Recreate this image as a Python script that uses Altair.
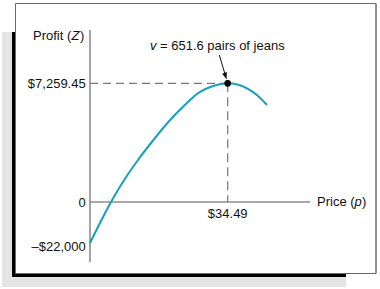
import altair as alt
import pandas as pd

# ---- data ----
price = [0, 2.50, 5.26, 7.76, 12.02, 16.28, 20.29, 24.54, 26.80, 30.80, 34.49, 39.32, 41.82, 44.33]
profit = [-22000, -11270, 0, 1040, 2569, 3914, 5076, 6116, 6605, 7094, 7259.45, 6954, 6544, 5932]
opt_price = [34.49]
max_profit = [7259.45]
y_tick_values = [7259.45, 0]
y_tick_labels = ["$7,259.45", "0"]
y_low_value = [-22000]
y_low_label = ["\u2013$22,000"]
x_tick_values = [34.49]
x_tick_labels = ["$34.49"]
y_title = ["Profit (", "Z", ")"]
x_title = ["Price (", "p", ")"]
note = ["v", "= 651.6 pairs of jeans"]

FONT = "Liberation Sans"
FS = 13
CURVE = "#169fbf"
AXIS = "#8c8c8c"
DASH = "#777777"

xs = alt.Scale(domain=[0, opt_price[0]], range=[90, 227.7], zero=False, nice=False)
ys = alt.Scale(domain=[y_low_value[0], 0, max_profit[0]], range=[243, 202, 83.3], zero=False, nice=False)

one = alt.Data(values=[{}])


def deco_rect(x, x2, y, y2, **kw):
    return alt.Chart(one).mark_rect(**kw).encode(
        x=alt.value(x), x2=alt.value(x2), y=alt.value(y), y2=alt.value(y2))


def deco_rule(x, x2, y, y2, **kw):
    return alt.Chart(one).mark_rule(**kw).encode(
        x=alt.value(x), x2=alt.value(x2), y=alt.value(y), y2=alt.value(y2))


def label(txt, x, y, align="left", style="normal"):
    return alt.Chart(one).mark_text(
        align=align, baseline="alphabetic", font=FONT, fontSize=FS,
        fontStyle=style, color="#111111", text=txt
    ).encode(x=alt.value(x), y=alt.value(y))


# frame and shadow
shadow_gray = deco_rect(2, 346, 32, 287, color="#e4e4e4")
shadow_black = deco_rect(12, 346, 32, 277, color="#000000")
box = deco_rect(15.5, 376, 3.5, 273.5, fill="white", stroke="#6a6a6a", strokeWidth=1)
box_right = deco_rule(376, 376, 3.5, 273.5, color="#8a8a8a", strokeWidth=1.6)

# axes lines
y_axis = deco_rule(90, 90, 30, 262, color=AXIS, strokeWidth=1.6)
x_axis = deco_rule(90, 310, 202, 202, color=AXIS, strokeWidth=1.6)

opt = pd.DataFrame({"p": opt_price, "Z": max_profit, "p0": [0], "Z0": [0]})

h_dash = alt.Chart(opt).mark_rule(color=DASH, strokeWidth=1.2, strokeDash=[8, 5]).encode(
    x=alt.X("p0:Q", scale=xs, axis=None), x2="p:Q",
    y=alt.Y("Z:Q", scale=ys, axis=None))
v_dash = alt.Chart(opt).mark_rule(color=DASH, strokeWidth=1.2, strokeDash=[9, 5]).encode(
    x=alt.X("p:Q", scale=xs, axis=None),
    y=alt.Y("Z:Q", scale=ys, axis=None), y2="Z0:Q")

curve_df = pd.DataFrame({"p": price, "Z": profit})
curve = alt.Chart(curve_df).mark_line(color=CURVE, strokeWidth=2, interpolate="monotone").encode(
    x=alt.X("p:Q", scale=xs, axis=None),
    y=alt.Y("Z:Q", scale=ys, axis=None))

dot = alt.Chart(opt).mark_point(filled=True, color="#000000", size=45, opacity=1).encode(
    x=alt.X("p:Q", scale=xs, axis=None),
    y=alt.Y("Z:Q", scale=ys, axis=None))

# arrow
arrow_line = deco_rule(219.3, 225.6, 55, 76.2, color="#111111", strokeWidth=1)
arrow_head = alt.Chart(one).mark_point(
    shape="M-0.7,-1L0.7,-1L0,1Z", filled=True, color="#111111", size=49, angle=342, opacity=1
).encode(x=alt.value(225.6), y=alt.value(76.2))

# tick labels
yt = pd.DataFrame({"Z": y_tick_values, "label": y_tick_labels, "p": [0, 0]})
y_labels = alt.Chart(yt).mark_text(
    align="right", baseline="alphabetic", font=FONT, fontSize=FS, color="#111111", dx=-4.3, dy=4.7
).encode(x=alt.X("p:Q", scale=xs, axis=None), y=alt.Y("Z:Q", scale=ys, axis=None), text="label:N")

yl = pd.DataFrame({"Z": y_low_value, "label": y_low_label, "p": [0]})
y_low = alt.Chart(yl).mark_text(
    align="right", baseline="alphabetic", font=FONT, fontSize=FS, color="#111111", dx=-4.3, dy=8
).encode(x=alt.X("p:Q", scale=xs, axis=None), y=alt.Y("Z:Q", scale=ys, axis=None), text="label:N")

xt = pd.DataFrame({"p": x_tick_values, "label": x_tick_labels, "Z": [0]})
x_labels = alt.Chart(xt).mark_text(
    align="center", baseline="alphabetic", font=FONT, fontSize=FS, color="#111111", dy=16
).encode(x=alt.X("p:Q", scale=xs, axis=None), y=alt.Y("Z:Q", scale=ys, axis=None), text="label:N")

# titles and annotation
titles = [
    label(y_title[0], 33, 39.5),
    label(y_title[1], 71.5, 39.5, style="italic"),
    label(y_title[2], 80, 39.5),
    label(x_title[0], 317, 206),
    label(x_title[1], 354.6, 206, style="italic"),
    label(x_title[2], 362, 206),
    label(note[0], 150, 50, style="italic"),
    label(note[1], 160, 50),
]

chart = alt.layer(
    shadow_gray, shadow_black, box, box_right,
    y_axis, x_axis, h_dash, v_dash, curve, dot,
    arrow_line, arrow_head, y_labels, y_low, x_labels, *titles
).properties(
    width=380, height=289,
    autosize=alt.AutoSizeParams(type="none"),
    padding=0,
    background="white",
).configure_view(stroke=None)

chart.save("out.html", embed_options={"renderer": "svg", "actions": False})
